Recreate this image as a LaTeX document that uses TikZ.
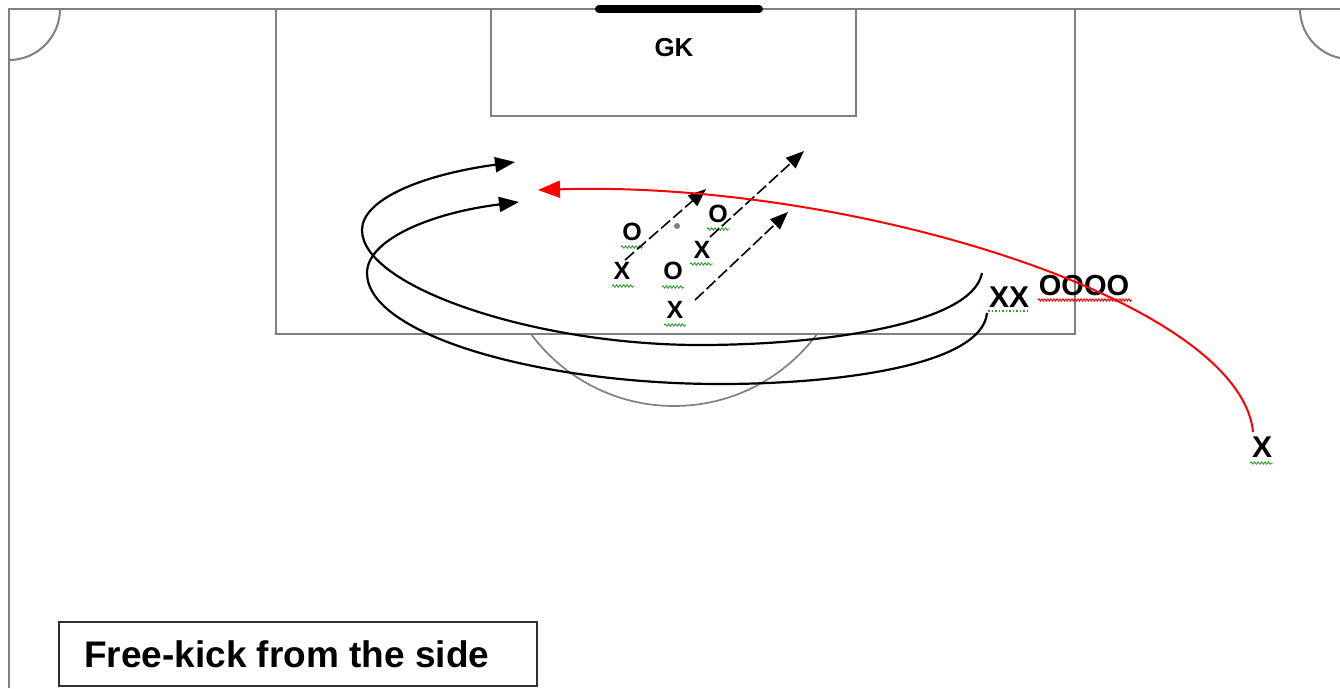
\documentclass[tikz,border=0pt]{standalone}
\usepackage{fontspec}
\setmainfont{Liberation Sans}
\usetikzlibrary{arrows.meta,decorations.pathmorphing}
\definecolor{linegray}{HTML}{808080}
\definecolor{boxgray}{HTML}{303030}
\definecolor{squiggreen}{HTML}{2E9E2E}
\begin{document}
\begin{tikzpicture}[x=1pt,y=-1pt,
  pitch/.style={draw=linegray,line width=2pt},
  player/.style={font=\fontsize{25}{25}\selectfont\bfseries,inner sep=0pt},
  bigplayer/.style={font=\fontsize{30}{30}\selectfont\bfseries,inner sep=0pt},
  runarrow/.style={draw=black,line width=1.6pt,dash pattern=on 12pt off 4pt,-{Triangle[length=18pt,width=14pt]}},
  curl/.style={draw=black,line width=2.2pt,-{Triangle[length=20pt,width=15pt]}},
  kick/.style={draw=red,line width=2pt,-{Triangle[length=22pt,width=17pt]}},
  squig/.style={draw=squiggreen,decorate,decoration={snake,amplitude=1.2pt,segment length=3.5pt},line width=0.9pt},
  redsquig/.style={draw=red,decorate,decoration={snake,amplitude=1.2pt,segment length=3pt},line width=0.9pt},
  dotline/.style={draw=squiggreen,line width=1.2pt,dash pattern=on 1.5pt off 2pt}
]
\useasboundingbox (0,0) rectangle (1340,688);
\clip (0,0) rectangle (1340,688);
\fill[white] (0,0) rectangle (1340,688);

% pitch
\draw[pitch] (9,688) -- (9,9) -- (1340,9);
\draw[pitch] (60,9) arc[start angle=0,end angle=90,radius=51];
\draw[pitch] (1300,9) arc[start angle=180,end angle=90,radius=50];
\draw[pitch] (276,9) rectangle (1075,334);
\draw[pitch] (491,9) rectangle (856,116);
\begin{scope}
  \clip (0,334) rectangle (1340,688);
  \draw[draw=linegray,line width=1.7pt] (674,228) circle[radius=178];
\end{scope}
\draw[line width=8pt,line cap=round] (599,9) -- (759,9);
\fill[linegray] (677,226) circle[radius=3];

\node[font=\fontsize{26}{26}\selectfont\bfseries,inner sep=0pt] (gk) at (674,48) {GK};

% players
\node[player] (o1) at (632,232) {O};
\node[player] (x1) at (622,271) {X};
\node[player] (o2) at (718,214) {O};
\node[player] (x2) at (702,250) {X};
\node[player] (o3) at (673,271) {O};
\node[player] (x3) at (675,310) {X};
\node[bigplayer] (xx) at (1009,297) {XX};
\node[font=\fontsize{29}{29}\selectfont\bfseries,inner sep=0pt] (oooo) at (1084,286) {OOOO};
\node[bigplayer] (xk) at (1262,447) {X};

% squiggly underlines
\draw[squig] (621,247) -- (643,247);
\draw[squig] (612,286) -- (634,286);
\draw[squig] (707,229) -- (729,229);
\draw[squig] (690,264) -- (713,264);
\draw[squig] (662,287) -- (684,287);
\draw[squig] (664,325) -- (686,325);
\draw[dotline] (988,311) -- (1029,311);
\draw[redsquig] (1038,300) -- (1132,300);
\draw[squig] (1250,463) -- (1273,463);

% coordinates for free ends
\coordinate (kickstart) at (1253,432);
\coordinate (kickend) at (538,190);
\coordinate (aS) at (982,273);
\coordinate (aE) at (515,162);
\coordinate (bS) at (987,313);
\coordinate (bE) at (519,202);
\coordinate (r1S) at (625,260);
\coordinate (r1E) at (706,189);
\coordinate (r2S) at (710,237);
\coordinate (r2E) at (804,151);
\coordinate (r3S) at (695,300);
\coordinate (r3E) at (788,212);

% curling runs
\draw[curl] (aS) .. controls (972,325) and (820,345) .. (700,345)
  .. controls (535,345) and (362,287) .. (362,230)
  .. controls (362,200) and (420,175) .. (aE);
\draw[curl] (bS) .. controls (982,365) and (840,384) .. (720,384)
  .. controls (540,384) and (367,335) .. (367,273)
  .. controls (367,240) and (430,213) .. (bE);

% dashed runs
\draw[runarrow] (r1S) -- (r1E);
\draw[runarrow] (r2S) -- (r2E);
\draw[runarrow] (r3S) -- (r3E);

% free kick
\draw[kick] (kickstart) .. controls (1240,300) and (850,180) .. (kickend);

% caption
\draw[draw=boxgray,line width=2pt] (59,622) rectangle (537,686);
\node[anchor=base west,inner sep=0pt,font=\fontsize{37}{37}\selectfont\bfseries] (caption) at (84,667) {Free-kick from the side};
\end{tikzpicture}
\end{document}
